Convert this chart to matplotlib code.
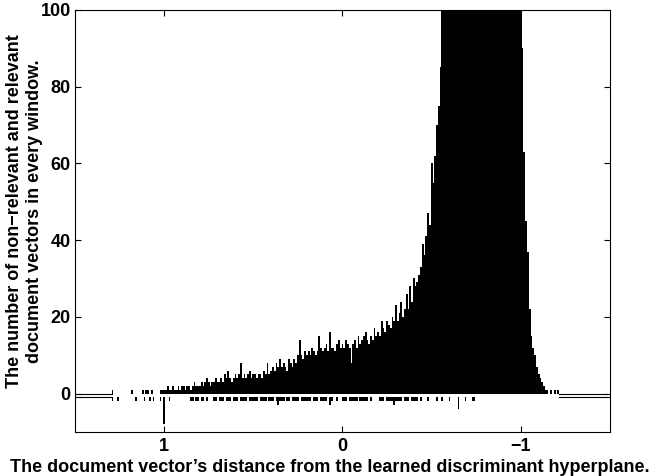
import numpy as np
import matplotlib
matplotlib.use("Agg")
import matplotlib.pyplot as plt

# bins of width 0.01, first bin centred at 1.29, going towards -1.21
first_center = 1.29
bin_width = 0.01

# non-relevant document vectors per window (clipped at 100 there)
nonrel_counts = [
    1, 0, 0, 0, 0, 0, 0, 0, 0, 0,           # 1.29 .. 1.20
    0, 1, 0, 0, 0, 0, 0, 1, 0, 1,           # 1.19 .. 1.10
    1, 0, 1, 0, 0, 0, 0, 1, 1, 1,           # 1.09 .. 1.00
    1, 2, 1, 1, 2, 1, 1, 2, 1, 2,           # 0.99 .. 0.90
    2, 1, 2, 2, 1, 2, 3, 2, 2, 2,           # 0.89 .. 0.80
    3, 2, 3, 4, 3, 2, 3, 3, 4, 3,           # 0.79 .. 0.70
    3, 4, 3, 5, 4, 6, 4, 3, 4, 5,           # 0.69 .. 0.60
    4, 5, 8, 4, 5, 4, 5, 6, 4, 5,           # 0.59 .. 0.50
    5, 4, 5, 5, 4, 6, 5, 8, 5, 6,           # 0.49 .. 0.40
    7, 6, 8, 7, 9, 7, 8, 7, 6, 9,           # 0.39 .. 0.30
    8, 7, 9, 8, 10, 14, 10, 9, 11, 10,      # 0.29 .. 0.20
    11, 10, 12, 11, 10, 11, 15, 12, 11, 12,  # 0.19 .. 0.10
    13, 11, 16, 12, 12, 11, 13, 14, 12, 13,  # 0.09 .. 0.00
    12, 14, 13, 12, 8, 13, 14, 12, 15, 13,   # -0.01 .. -0.10
    14, 15, 16, 14, 13, 15, 14, 17, 15, 16,  # -0.11 .. -0.20
    15, 19, 17, 16, 19, 18, 17, 20, 19, 23,  # -0.21 .. -0.30
    19, 21, 24, 20, 22, 26, 22, 28, 24, 30,  # -0.31 .. -0.40
    28, 29, 31, 33, 39, 36, 41, 47, 44, 60,  # -0.41 .. -0.50
    55, 62, 70, 75, 85, 120, 140, 150, 165, 170,        # -0.51 .. -0.60
    180, 190, 200, 210, 215, 220, 230, 235, 240, 245,   # -0.61 .. -0.70
    250, 255, 260, 260, 265, 265, 260, 255, 250, 245,   # -0.71 .. -0.80
    240, 230, 220, 210, 200, 190, 180, 170, 160, 150,   # -0.81 .. -0.90
    140, 135, 130, 125, 120, 118, 115, 112, 110, 105,   # -0.91 .. -1.00
    90, 63, 45, 37, 22, 15, 12, 10, 7, 5,    # -1.01 .. -1.10
    4, 3, 2, 1, 1, 0, 1, 0, 1, 0,           # -1.11 .. -1.20
    1,                                      # -1.21
]

# relevant document vectors per window (drawn downwards below -1)
rel_counts = [
    1, 0, 0, 1, 0, 0, 0, 0, 0, 0,
    0, 0, 0, 1, 0, 0, 0, 0, 1, 0,
    0, 1, 0, 1, 0, 0, 0, 1, 0, 7,
    0, 0, 1, 0, 0, 0, 0, 0, 0, 0,
    0, 0, 0, 0, 1, 1, 0, 1, 1, 0,
    1, 1, 0, 1, 0, 0, 0, 1, 1, 0,
    1, 1, 1, 0, 1, 1, 1, 0, 1, 1,
    1, 0, 1, 1, 1, 1, 0, 1, 1, 1,
    1, 1, 0, 1, 1, 1, 1, 0, 1, 1,
    1, 0, 1, 2, 1, 1, 1, 0, 1, 1,
    0, 1, 1, 1, 1, 0, 1, 1, 1, 1,
    1, 1, 0, 1, 1, 1, 0, 1, 1, 1,
    1, 0, 2, 1, 0, 0, 1, 0, 0, 1,
    1, 1, 0, 1, 1, 1, 1, 1, 0, 1,
    1, 1, 1, 1, 0, 1, 0, 0, 0, 0,
    1, 1, 1, 0, 1, 1, 1, 1, 2, 1,
    1, 1, 1, 0, 1, 1, 1, 0, 1, 1,
    1, 1, 0, 1, 0, 0, 0, 1, 0, 0,
    0, 0, 1, 0, 0, 1, 0, 0, 0, 1,
    0, 0, 0, 0, 3, 0, 0, 0, 1, 0,
    0, 0, 1, 1, 0, 0, 0, 0, 0, 0,
    0, 0, 0, 0, 0, 0, 0, 0, 0, 0,
    0, 0, 0, 0, 0, 0, 0, 0, 0, 0,
    0, 0, 0, 0, 0, 0, 0, 0, 0, 0,
    0, 0, 0, 0, 0, 0, 0, 0, 0, 0,
    0,
]

rel_offset = -1
x_ticks = [1, 0, -1]
x_ticklabels = ['1', '0', '\u22121']
y_ticks = [0, 20, 40, 60, 80, 100]

nonrel = np.array(nonrel_counts, dtype=float)
rel = np.array(rel_counts, dtype=float)
n = len(nonrel)
edges = first_center + bin_width / 2 - bin_width * np.arange(n + 1)

plt.rcParams['font.family'] = ['Liberation Sans', 'DejaVu Sans']
plt.rcParams['font.weight'] = 'bold'

fig = plt.figure(figsize=(6.58, 4.76), dpi=100)
ax = fig.add_axes([0.114, 0.0924, 0.813, 0.887])

xlim = (1.5, -1.5)
ylim = (-10, 100)

# non-relevant histogram, upwards from 0
ax.stairs(nonrel, edges, baseline=0, fill=True, color='black', linewidth=0)
# relevant histogram, downwards from the offset line
ax.stairs(rel_offset - rel, edges, baseline=rel_offset, fill=True,
          color='black', linewidth=0)

# empty windows at both ends show up as flat lines
nz = np.nonzero(nonrel)[0]
left_end = edges[nz[0]]
right_end = edges[nz[-1] + 1]
for yb in (0, rel_offset):
    ax.plot([xlim[0], left_end], [yb, yb], color='black', linewidth=0.8)
    ax.plot([right_end, xlim[1]], [yb, yb], color='black', linewidth=0.8)

ax.set_xlim(*xlim)
ax.set_ylim(*ylim)
ax.set_xticks(x_ticks)
ax.set_xticklabels(x_ticklabels)
ax.set_yticks(y_ticks)
ax.tick_params(direction='in', top=True, right=True, length=4, width=0.8,
               labelsize=13)
ax.tick_params(axis='y', pad=3)
ax.tick_params(axis='x', pad=4)
for lab in ax.get_xticklabels() + ax.get_yticklabels():
    lab.set_fontweight('bold')
for s in ax.spines.values():
    s.set_linewidth(0.8)

ax.set_xlabel('The document vector\u2019s distance from the learned discriminant hyperplane.',
              fontsize=13, fontweight='bold', labelpad=3)
ax.xaxis.label.set_x(0.477)
ax.set_ylabel('The number of non\u2212relevant and relevant\ndocument vectors in every window.',
              fontsize=13, fontweight='bold', linespacing=1.2)
ax.yaxis.set_label_coords(-0.06, 0.524)

fig.savefig('out.png', dpi=100)
